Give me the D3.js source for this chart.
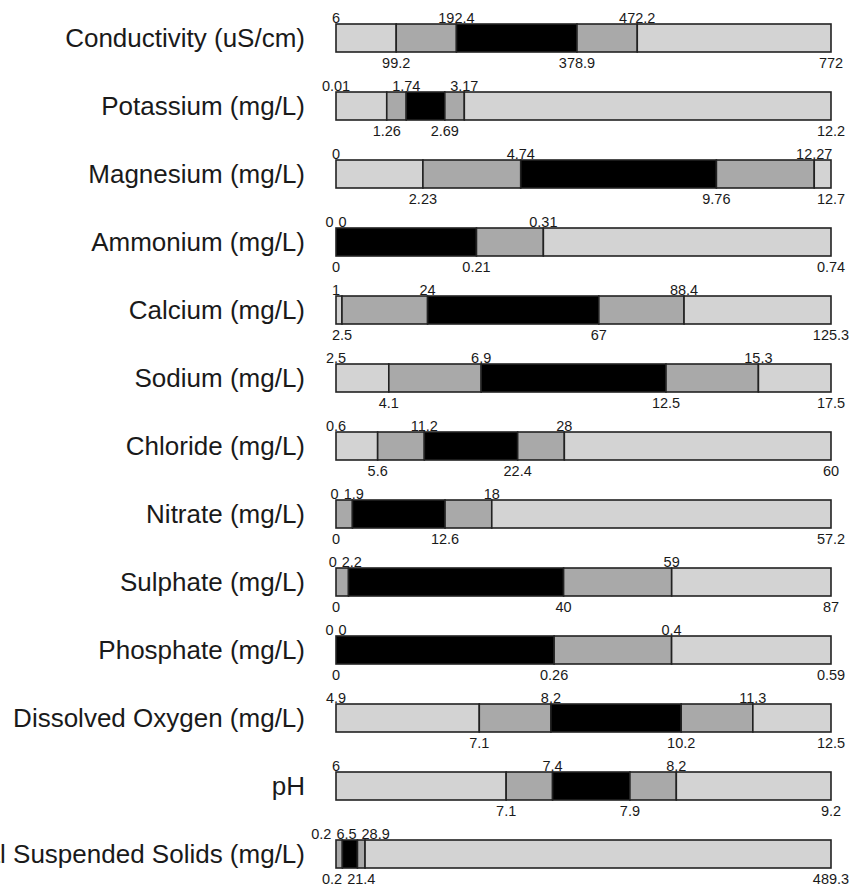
<!DOCTYPE html>
<html>
<head>
<meta charset="utf-8">
<script src="https://cdn.jsdelivr.net/npm/d3@7"></script>
<style>
  body { margin: 0; background: #fff; }
  text { font-family: "Liberation Sans", Arial, sans-serif; fill: #1a1a1a; }
</style>
</head>
<body>
<div id="chart"></div>
<script>
const params = ["Conductivity (uS/cm)", "Potassium (mg/L)", "Magnesium (mg/L)", "Ammonium (mg/L)",
  "Calcium (mg/L)", "Sodium (mg/L)", "Chloride (mg/L)", "Nitrate (mg/L)", "Sulphate (mg/L)",
  "Phosphate (mg/L)", "Dissolved Oxygen (mg/L)", "pH", "Total Suspended Solids (mg/L)"];

const minVals = [6, 0.01, 0, 0, 1, 2.5, 0.6, 0, 0, 0, 4.9, 6, 0.2];
const p10Vals = [99.2, 1.26, 2.23, 0, 2.5, 4.1, 5.6, 0, 0, 0, 7.1, 7.1, 0.2];
const p25Vals = [192.4, 1.74, 4.74, 0, 24, 6.9, 11.2, 1.9, 2.2, 0, 8.2, 7.4, 6.5];
const p75Vals = [378.9, 2.69, 9.76, 0.21, 67, 12.5, 22.4, 12.6, 40, 0.26, 10.2, 7.9, 21.4];
const p90Vals = [472.2, 3.17, 12.27, 0.31, 88.4, 15.3, 28, 18, 59, 0.4, 11.3, 8.2, 28.9];
const maxVals = [772, 12.2, 12.7, 0.74, 125.3, 17.5, 60, 57.2, 87, 0.59, 12.5, 9.2, 489.3];

const width = 850, height = 886;
const barLeft = 336, barRight = 831, barH = 28;
const fills = ["#d3d3d3", "#a9a9a9", "#000000", "#a9a9a9", "#d3d3d3"];

const rows = params.map((p, i) => ({
  name: p,
  vals: [minVals[i], p10Vals[i], p25Vals[i], p75Vals[i], p90Vals[i], maxVals[i]]
}));

const yScale = d3.scalePoint().domain(params).range([38, 854]);

const svg = d3.select("#chart").append("svg").attr("width", width).attr("height", height);

// simple label repel along x
function repel(labels, pad) {
  labels.sort((a, b) => a.x - b.x);
  for (let k = 0; k < 60; k++) {
    let moved = false;
    for (let i = 0; i < labels.length - 1; i++) {
      const a = labels[i], b = labels[i + 1];
      const ov = (a.x + a.w / 2 + pad) - (b.x - b.w / 2);
      if (ov > 0.01) {
        a.x -= ov / 2; b.x += ov / 2; moved = true;
      }
    }
    if (!moved) break;
  }
}

rows.forEach(row => {
  const cy = yScale(row.name);
  const x = d3.scaleLinear().domain([row.vals[0], row.vals[5]]).range([barLeft, barRight]);
  const g = svg.append("g");

  g.append("text")
    .attr("x", 305).attr("y", cy).attr("dy", "0.35em")
    .attr("text-anchor", "end")
    .style("font-size", "26px")
    .text(row.name);

  const segs = d3.range(5).map(i => ({ a: row.vals[i], b: row.vals[i + 1], fill: fills[i] }));
  g.selectAll("rect")
    .data(segs)
    .join("rect")
    .attr("x", d => x(d.a))
    .attr("y", cy - barH / 2)
    .attr("width", d => Math.max(0, x(d.b) - x(d.a)))
    .attr("height", barH)
    .attr("fill", d => d.fill)
    .attr("stroke", "#222")
    .attr("stroke-width", 1.6);

  const above = [0, 2, 4].map(i => ({ v: row.vals[i] }));
  const below = [1, 3, 5].map(i => ({ v: row.vals[i] }));

  [[above, cy - barH / 2 - 1], [below, cy + barH / 2 + 16]].forEach(([labs, ty]) => {
    const t = g.selectAll(null)
      .data(labs)
      .join("text")
      .attr("y", ty)
      .attr("text-anchor", "middle")
      .style("font-size", "14.5px")
      .text(d => d3.format("")(d.v));
    t.each(function (d) { d.w = this.getComputedTextLength(); d.x = x(d.v); });
    repel(labs, 5);
    t.attr("x", d => d.x);
  });
});
</script>
</body>
</html>
